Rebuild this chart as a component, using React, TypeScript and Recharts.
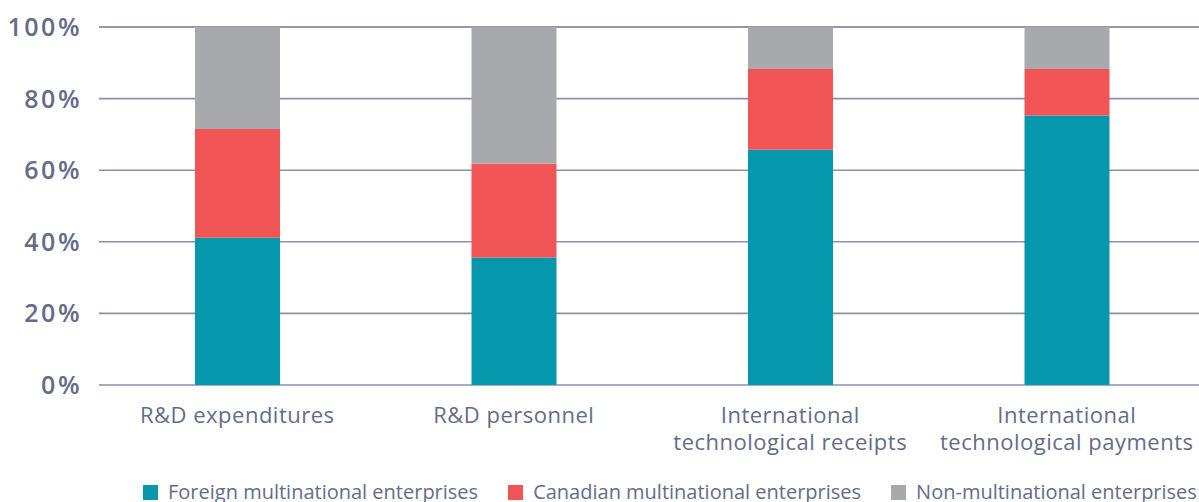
import React from "react";
import { BarChart, Bar, XAxis, YAxis, CartesianGrid } from "recharts";

const categories = [
  "R&D expenditures",
  "R&D personnel",
  "International\ntechnological receipts",
  "International\ntechnological payments",
];
const foreign = [41.1, 35.6, 65.7, 75.3];
const canadian = [30.4, 26.2, 22.6, 13.0];
const nonMultinational = [28.5, 38.2, 11.7, 11.7];
const yTicks = [0, 20, 40, 60, 80, 100];

const seriesNames = [
  "Foreign multinational enterprises",
  "Canadian multinational enterprises",
  "Non-multinational enterprises",
];
const colors = ["#0598ad", "#f05455", "#a8a9ad"];

const data = categories.map((c, i) => ({
  name: c,
  foreign: foreign[i],
  canadian: canadian[i],
  non: nonMultinational[i],
}));

const FONT = "'Open Sans', 'DejaVu Sans', sans-serif";
const TEXT = "#646c89";

const XTick = (props: any) => {
  const { x, y, payload } = props;
  const lines = String(payload.value).split("\n");
  return (
    <text
      x={x}
      y={y}
      textAnchor="middle"
      fill={TEXT}
      fontFamily={FONT}
      fontSize={22}
      fontWeight={500}
      letterSpacing={0.5}
    >
      {lines.map((l, i) => (
        <tspan key={i} x={x} dy={i === 0 ? 30 : 27}>
          {l}
        </tspan>
      ))}
    </text>
  );
};

const YTick = (props: any) => {
  const { x, y, payload } = props;
  return (
    <text
      x={x}
      y={y}
      dy={9}
      textAnchor="end"
      fill={TEXT}
      fontFamily={FONT}
      fontSize={25}
      fontWeight={600}
      letterSpacing={2.5}
    >
      {payload.value}%
    </text>
  );
};

export default function App() {
  return (
    <div
      style={{
        position: "absolute",
        left: 0,
        top: 0,
        width: 1199,
        height: 502,
        overflow: "hidden",
        background: "#fff",
      }}
    >
      <BarChart
        width={1210}
        height={502}
        data={data}
        margin={{ top: 27, right: 5, left: 0, bottom: 87 }}
        barSize={85}
      >
        <CartesianGrid vertical={false} stroke="#8b90a9" strokeWidth={1.6} />
        <XAxis
          dataKey="name"
          height={30}
          axisLine={false}
          tickLine={false}
          tick={<XTick />}
          interval={0}
        />
        <YAxis
          width={99}
          domain={[0, 100]}
          ticks={yTicks}
          axisLine={false}
          tickLine={false}
          tickSize={0}
          tickMargin={17}
          tick={<YTick />}
          interval={0}
        />
        <Bar dataKey="foreign" stackId="a" fill={colors[0]} isAnimationActive={false} />
        <Bar dataKey="canadian" stackId="a" fill={colors[1]} isAnimationActive={false} />
        <Bar dataKey="non" stackId="a" fill={colors[2]} isAnimationActive={false} />
      </BarChart>
      <div
        style={{
          position: "absolute",
          left: 143,
          top: 482,
          display: "flex",
          fontFamily: FONT,
          fontSize: 20,
          lineHeight: "20px",
          fontWeight: 500,
          color: TEXT,
          alignItems: "center",
          whiteSpace: "nowrap",
        }}
      >
        {seriesNames.map((n, i) => (
          <div key={n} style={{ display: "flex", alignItems: "center", marginRight: 30 }}>
            <div style={{ width: 15, height: 15, background: colors[i], marginRight: 10 }} />
            <span>{n}</span>
          </div>
        ))}
      </div>
    </div>
  );
}
